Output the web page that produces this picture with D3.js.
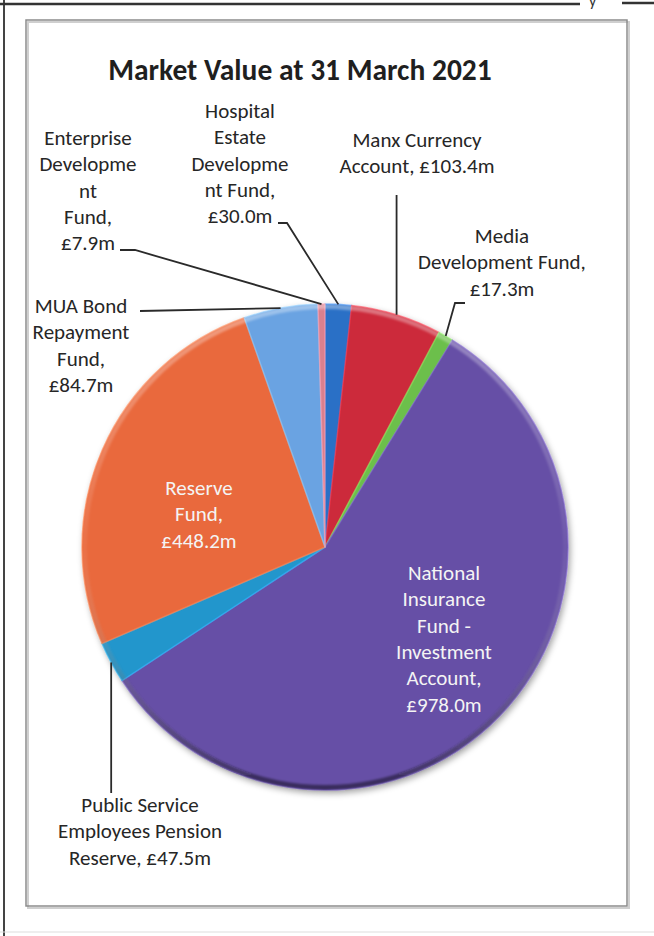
<!DOCTYPE html>
<html><head><meta charset="utf-8">
<script src="https://cdn.jsdelivr.net/npm/d3@7"></script>
<style>
html,body{margin:0;padding:0;background:#fff;}
svg{display:block;}
text{font-family:Carlito,Calibri,Lato,sans-serif;}
</style></head><body>
<svg id="chart" width="654" height="936"></svg>
<script>
// Fund market values (£m), in slice order clockwise from 12 o'clock
const categories = [
  "Hospital Estate Development Fund",
  "Manx Currency Account",
  "Media Development Fund",
  "National Insurance Fund - Investment Account",
  "Public Service Employees Pension Reserve",
  "Reserve Fund",
  "MUA Bond Repayment Fund",
  "Enterprise Development Fund"
];
const values = [30.0, 103.4, 17.3, 978.0, 47.5, 448.2, 84.7, 7.9];
// Wrapped label text; {v} is replaced by the formatted value
const labelLines = [
  ["Hospital", "Estate", "Developme", "nt Fund,", "{v}"],
  ["Manx Currency", "Account, {v}"],
  ["Media", "Development Fund,", "{v}"],
  ["National", "Insurance", "Fund -", "Investment", "Account,", "{v}"],
  ["Public Service", "Employees Pension", "Reserve, {v}"],
  ["Reserve", "Fund,", "{v}"],
  ["MUA Bond", "Repayment", "Fund,", "{v}"],
  ["Enterprise", "Developme", "nt", "Fund,", "{v}"]
];
const sliceColours = ["#2a6fc6", "#cc2b3b", "#6cbf4c", "#6650a6", "#2196cc", "#e9693e", "#6ba3e2", "#d9808e"];
const chartTitle = "Market Value at 31 March 2021";

const fmt = v => "£" + v.toFixed(1) + "m";
const data = categories.map((name, i) => ({name, value: values[i], lines: labelLines[i], colour: sliceColours[i]}));

const svg = d3.select("#chart");
const defs = svg.append("defs");

// page rules and chart frame
svg.append("line").attr("x1", 4).attr("y1", 0).attr("x2", 4).attr("y2", 936).attr("stroke", "#444").attr("stroke-width", 2);
svg.append("line").attr("x1", 0).attr("y1", 4).attr("x2", 580).attr("y2", 4).attr("stroke", "#333").attr("stroke-width", 2.5);
svg.append("line").attr("x1", 622).attr("y1", 3).attr("x2", 654).attr("y2", 3).attr("stroke", "#333").attr("stroke-width", 2.5);
svg.append("text").attr("x", 589).attr("y", 6).attr("font-size", 16).attr("fill", "#333").text("y");
svg.append("line").attr("x1", 0).attr("y1", 932).attr("x2", 654).attr("y2", 932).attr("stroke", "#ddd").attr("stroke-width", 1);

svg.append("rect").attr("x", 28).attr("y", 22).attr("width", 601).attr("height", 886)
  .attr("fill", "none").attr("stroke", "#cfcfcf").attr("stroke-width", 2);
svg.append("rect").attr("x", 26).attr("y", 20).attr("width", 601).attr("height", 886)
  .attr("fill", "none").attr("stroke", "#8c8c8c").attr("stroke-width", 1.5);

svg.append("text").attr("x", 300).attr("y", 80).attr("text-anchor", "middle")
  .attr("font-size", 29.5).attr("font-weight", "bold").attr("fill", "#1f1f1f").text(chartTitle);

// pie
const cx = 325, cy = 547, r = 243;
const pie = d3.pie().sort(null).value(d => d.value).startAngle(0).endAngle(2 * Math.PI);
const arcs = pie(data);
const arc = d3.arc().innerRadius(0).outerRadius(r);

const shadow = defs.append("filter").attr("id", "shadow").attr("x", "-10%").attr("y", "-10%").attr("width", "120%").attr("height", "120%");
shadow.append("feDropShadow").attr("dx", 2).attr("dy", 3).attr("stdDeviation", 3)
  .attr("flood-color", "#000").attr("flood-opacity", 0.35);

const rimGrad = defs.append("linearGradient").attr("id", "rim").attr("x1", 0).attr("y1", 0).attr("x2", 0).attr("y2", 1);
rimGrad.append("stop").attr("offset", "0%").attr("stop-color", "#fff").attr("stop-opacity", 0.35);
rimGrad.append("stop").attr("offset", "50%").attr("stop-color", "#fff").attr("stop-opacity", 0.05);
rimGrad.append("stop").attr("offset", "100%").attr("stop-color", "#000").attr("stop-opacity", 0.45);

const soft = defs.append("filter").attr("id", "soft");
soft.append("feGaussianBlur").attr("stdDeviation", 1);

const g = svg.append("g").attr("transform", `translate(${cx},${cy})`);
const pieG = g.append("g").attr("filter", "url(#shadow)");
pieG.selectAll("path.slice").data(arcs).join("path")
  .attr("class", "slice")
  .attr("d", arc)
  .attr("fill", d => d.data.colour)
  .attr("stroke", d => d3.color(d.data.colour).brighter(0.6))
  .attr("stroke-opacity", 0.6)
  .attr("stroke-width", 1.5)
  .attr("stroke-linejoin", "round");
g.append("path")
  .attr("d", d3.arc().innerRadius(r - 5).outerRadius(r)({startAngle: 0, endAngle: 2 * Math.PI}))
  .attr("fill", "url(#rim)").attr("filter", "url(#soft)");

// label placement (page coordinates) and leader routing
const rimPoint = d => {
  const a = (d.startAngle + d.endAngle) / 2;
  return [cx + r * Math.sin(a), cy - r * Math.cos(a)];
};
const layout = {
  "Hospital Estate Development Fund": {x: 240, y: 118, leader: p => [[278, 223], [287, 223], p]},
  "Manx Currency Account": {x: 417, y: 147, leader: p => [[p[0], 195], p]},
  "Media Development Fund": {x: 502, y: 243, leader: p => [[465, 303], [455, 303], p]},
  "National Insurance Fund - Investment Account": {x: 444, y: 580, inside: true},
  "Public Service Employees Pension Reserve": {x: 140, y: 812, leader: p => [p, [p[0], 793]]},
  "Reserve Fund": {x: 199, y: 495, inside: true},
  "MUA Bond Repayment Fund": {x: 81, y: 313, leader: p => [[140, 311], p]},
  "Enterprise Development Fund": {x: 88, y: 145, leader: p => [[120, 250], [135, 250], p]}
};
const lineH = 26.3;

const leaders = svg.append("g");
const labels = svg.append("g");
arcs.forEach(d => {
  const L = layout[d.data.name];
  if (L.leader) {
    leaders.append("path")
      .attr("d", d3.line()(L.leader(rimPoint(d))))
      .attr("fill", "none").attr("stroke", "#2a2a2a").attr("stroke-width", 1.8);
  }
  const t = labels.append("text").attr("text-anchor", "middle")
    .attr("font-size", 21).attr("fill", L.inside ? "#f4f4f4" : "#262626");
  d.data.lines.forEach((ln, i) => {
    t.append("tspan").attr("x", L.x).attr("y", L.y + i * lineH).text(ln.replace("{v}", fmt(d.data.value)));
  });
});
</script>
</body></html>
